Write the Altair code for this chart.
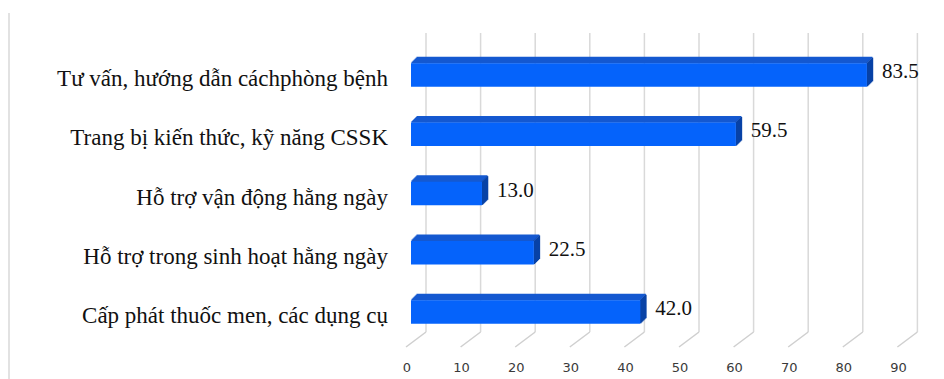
import altair as alt
import pandas as pd

# Survey results: share of respondents (%) per type of support
categories = [
    "Tư vấn, hướng dẫn cáchphòng bệnh",
    "Trang bị kiến thức, kỹ năng CSSK",
    "Hỗ trợ vận động hằng ngày",
    "Hỗ trợ trong sinh hoạt hằng ngày",
    "Cấp phát thuốc men, các dụng cụ",
]
values = [83.5, 59.5, 13.0, 22.5, 42.0]
ticks = [0, 10, 20, 30, 40, 50, 60, 70, 80, 90]

# Geometry of the pseudo-3D drawing
W, H = 944, 379
X0_PX = 411            # pixel of value 0 on the bars' front faces
PX_PER_UNIT = 5.46     # pixels per percentage point
ROW0_PX, ROW_STEP = 75, 59.25
BAR_HALF = 0.2         # half bar thickness, in row units
DEPTH = 6              # extrusion depth in pixels
WALL_SHIFT = 15        # back wall relative to bar front faces
FLOOR_SHIFT = -5       # front floor edge relative to bar front faces
WALL_TOP, WALL_BOTTOM, FLOOR_FRONT = 33, 332, 347

xs = alt.Scale(domain=[0, 90], range=[X0_PX, X0_PX + 90 * PX_PER_UNIT])
ys = alt.Scale(domain=[0, len(categories) - 1],
               range=[ROW0_PX, ROW0_PX + ROW_STEP * (len(categories) - 1)])

FRONT, TOP, SIDE = "#0563FB", "#1559D0", "#0842A6"
SERIF = "Liberation Serif"

bars = pd.DataFrame({
    "cat": categories,
    "v": values,
    "row": list(range(len(categories))),
})
bars["top"] = bars["row"] - BAR_HALF
bars["bot"] = bars["row"] + BAR_HALF
bars["label"] = [f"{v:.1f}" for v in values]

tick_df = pd.DataFrame({"t": ticks})

frame = alt.Chart(pd.DataFrame({"a": [0]})).mark_rule(
    color="#e2e2e2", strokeWidth=2
).encode(x=alt.value(9), y=alt.value(13), y2=alt.value(H))

wall = alt.Chart(tick_df).mark_rule(
    color="#d9d9d9", strokeWidth=1.5, xOffset=WALL_SHIFT
).encode(
    x=alt.X("t:Q", scale=xs, axis=None),
    y=alt.value(WALL_TOP), y2=alt.value(WALL_BOTTOM),
)

floor = alt.Chart(tick_df).mark_rule(
    color="#cfcfcf", strokeWidth=1.5,
    xOffset=FLOOR_SHIFT, x2Offset=WALL_SHIFT,
).encode(
    x=alt.X("t:Q", scale=xs, axis=None), x2="t:Q",
    y=alt.value(FLOOR_FRONT), y2=alt.value(WALL_BOTTOM),
)

tick_labels = alt.Chart(tick_df).mark_text(
    font="DejaVu Sans", fontSize=13, color="#3a3a3a",
    baseline="middle", align="center", xOffset=-4,
).encode(
    x=alt.X("t:Q", scale=xs, axis=None),
    y=alt.value(368),
    text="t:Q",
)

base = alt.Chart(bars)

# top face: one-pixel slices, each shifted back and up by one more pixel
top_slices = [
    base.mark_rule(
        color=TOP, strokeWidth=1.6, strokeCap="butt",
        xOffset=k + 0.5, x2Offset=k + 0.5, yOffset=-(k + 0.5),
    ).encode(
        x=alt.X("v:Q", scale=xs, axis=None),
        x2=alt.datum(0),
        y=alt.Y("top:Q", scale=ys, axis=None),
    )
    for k in range(DEPTH)
]

# right side face, built the same way
side_slices = [
    base.mark_rule(
        color=SIDE, strokeWidth=1.6, strokeCap="butt",
        xOffset=k + 0.5, yOffset=-(k + 0.5), y2Offset=-(k + 0.5),
    ).encode(
        x=alt.X("v:Q", scale=xs, axis=None),
        y=alt.Y("top:Q", scale=ys, axis=None),
        y2="bot:Q",
    )
    for k in range(DEPTH)
]

front_face = base.mark_rect(color=FRONT).encode(
    x=alt.X("v:Q", scale=xs, axis=None),
    x2=alt.datum(0),
    y=alt.Y("top:Q", scale=ys, axis=None),
    y2="bot:Q",
)

value_labels = base.mark_text(
    font=SERIF, fontSize=21, color="#111111",
    align="left", baseline="alphabetic", dx=15, dy=3,
).encode(
    x=alt.X("v:Q", scale=xs, axis=None),
    y=alt.Y("row:Q", scale=ys, axis=None),
    text="label:N",
)

cat_labels = base.mark_text(
    font=SERIF, fontSize=23, color="#111111",
    align="right", baseline="alphabetic", dy=11,
).encode(
    x=alt.value(388),
    y=alt.Y("row:Q", scale=ys, axis=None),
    text="cat:N",
)

chart = alt.layer(
    frame, wall, floor, tick_labels,
    *top_slices, *side_slices, front_face,
    value_labels, cat_labels,
).properties(
    width=W, height=H,
    autosize=alt.AutoSizeParams(type="none"),
    padding=0,
    background="white",
).configure_view(stroke=None)

chart.save("out.html", embed_options={"renderer": "svg", "actions": False})
